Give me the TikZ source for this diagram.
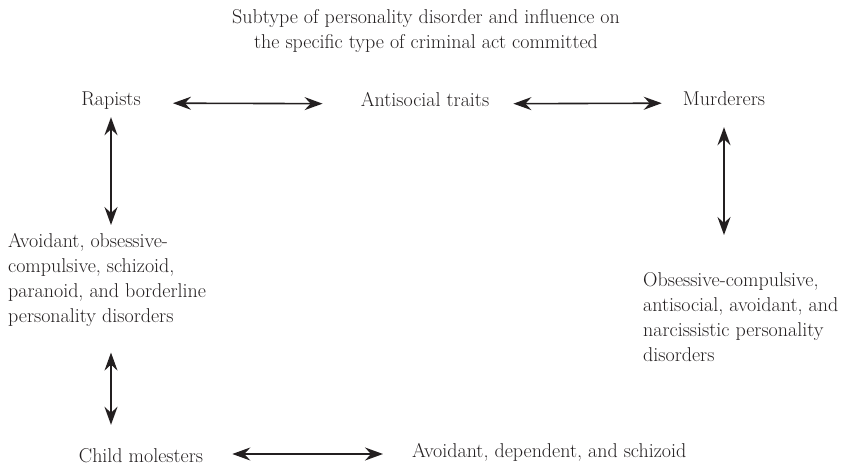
\documentclass[tikz,border=0pt]{standalone}
\usepackage{tikz}
\usetikzlibrary{positioning,calc,arrows.meta}
\definecolor{inkgray}{HTML}{231F20}

\begin{document}
\begin{tikzpicture}[
        x=1bp, y=-1bp,
        every node/.style={inner sep=0pt, text=inkgray, font=\fontsize{20bp}{25bp}\selectfont},
        word/.style={anchor=base, text height=13bp, text depth=7bp},
        block/.style={anchor=north west, align=left},
        link/.style={{Stealth[length=18bp,width=13bp,inset=6bp]}-{Stealth[length=18bp,width=13bp,inset=6bp]},
                     line width=1.6bp, draw=inkgray}
      ]
      \useasboundingbox (0,0) rectangle (858,468);
      \node (title) [anchor=north, align=center] at (426,9)
                    {Subtype of personality disorder and influence on \\
                     the specific type of criminal act committed};
      \node (rap)   [word] at (111,106) {Rapists};
      \node (anti)  [word] at (425,107) {Antisocial traits};
      \node (murd)  [word] at (724,106) {Murderers};
      \node (rapdis) [block] at (8,233)
                    {Avoidant, obsessive-\\ compulsive, schizoid,\\
                     paranoid, and borderline\\ personality disorders};
      \node (murdis) [block] at (643,272)
                    {Obsessive-compulsive,\\ antisocial, avoidant, and\\
                     narcissistic personality\\ disorders};
      \node (child) [word] at (141,462) {Child molesters};
      \node (childis) [word, anchor=base west] at (412,457) {Avoidant, dependent, and schizoid};
      % arrows
      \draw[link, shorten <=32bp, shorten >=38bp] (rap) -- (anti);
      \draw[link, shorten <=24bp, shorten >=21bp] (anti) -- (murd);
      \draw[link, shorten <=4bp, shorten >=8bp] (rap.south) -- (rap.south |- rapdis.north);
      \draw[link, shorten <=14bp, shorten >=37bp] (murd.south) -- (murd.south |- murdis.north);
      \draw[link, shorten <=26bp, shorten >=24bp] (rap.south |- rapdis.south) -- (rap.south |- child.north);
      \draw[link, shorten <=29bp, shorten >=29bp] (child.east |- childis.west) -- (childis.west);
    \end{tikzpicture}
\end{document}
